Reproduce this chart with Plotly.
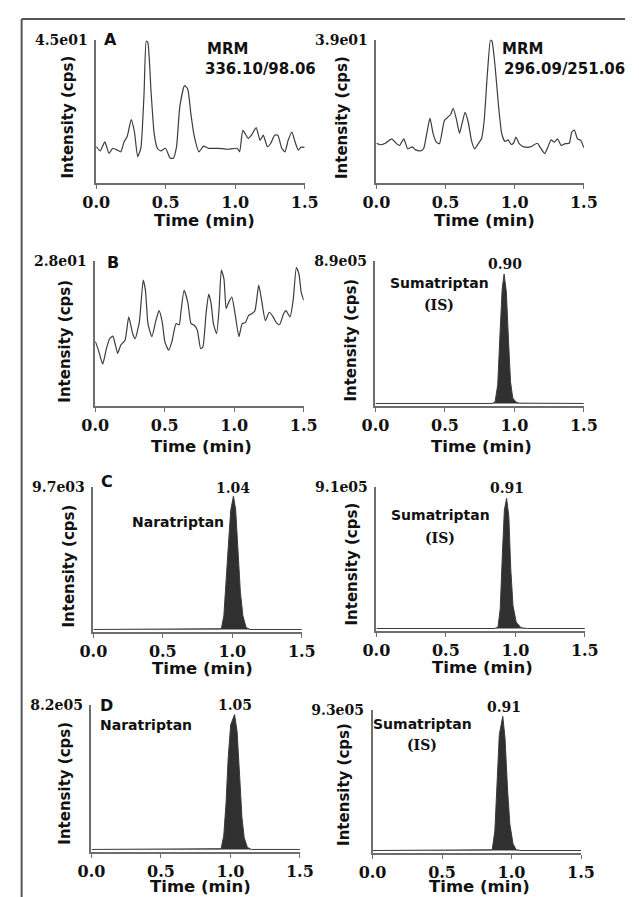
import plotly.graph_objects as go

W, H = 639, 897

# ---------------- data ----------------
# Panel A, left: MRM 336.10/98.06 (blank)
time_a1 = [0, 0.028, 0.062, 0.092, 0.119, 0.154, 0.177, 0.2, 0.222, 0.252, 0.275, 0.298, 0.321, 0.344,
           0.36, 0.372, 0.394, 0.417, 0.44, 0.463, 0.498, 0.532, 0.555, 0.578, 0.601, 0.635, 0.658, 0.681,
           0.704, 0.739, 0.773, 0.807, 0.876, 0.945, 1.014, 1.032, 1.055, 1.094, 1.117, 1.151, 1.179, 1.202,
           1.232, 1.255, 1.284, 1.307, 1.335, 1.358, 1.381, 1.408, 1.427, 1.454, 1.472, 1.5]
int_a1 = [11.5, 10.2, 13.0, 9.4, 11.0, 10.4, 9.9, 13.0, 14.6, 20.0, 16.1, 8.4, 11.0, 28.0,
          44.6, 44.0, 29.1, 15.6, 11.0, 10.2, 11.0, 7.9, 7.9, 11.5, 23.9, 30.6, 29.6, 21.8,
          15.1, 9.9, 11.7, 11.0, 11.0, 10.7, 11.0, 9.9, 16.6, 14.1, 15.1, 17.5, 13.5, 15.1,
          11.5, 12.5, 15.1, 15.1, 11.0, 9.9, 13.5, 16.1, 13.5, 10.4, 11.3, 11.3]

# Panel A, right: MRM 296.09/251.06 (blank)
time_a2 = [0, 0.03, 0.065, 0.111, 0.145, 0.168, 0.198, 0.226, 0.26, 0.283,
           0.318, 0.341, 0.364, 0.387, 0.41, 0.433, 0.456, 0.491, 0.514, 0.537,
           0.555, 0.578, 0.601, 0.618, 0.641, 0.664, 0.687, 0.71, 0.737, 0.76,
           0.779, 0.802, 0.825, 0.836, 0.859, 0.882, 0.906, 0.929, 0.952, 0.975,
           0.991, 1.009, 1.032, 1.067, 1.113, 1.164, 1.182, 1.217, 1.24, 1.263,
           1.286, 1.309, 1.336, 1.366, 1.394, 1.412, 1.431, 1.454, 1.477, 1.5]
int_a2 = [10.9, 10.5, 10.9, 12.1, 10.8, 10.3, 12.1, 9.4, 9.9, 9.1,
          8.8, 9.4, 13.5, 17.7, 13.5, 11.2, 10.8, 17.0, 17.9, 18.7,
          20.4, 17.5, 13.6, 16.1, 19.3, 16.6, 11.7, 9.4, 10.8, 12.1,
          17.0, 29.6, 39.0, 38.6, 31.4, 21.5, 13.5, 11.4, 11.8, 10.6,
          10.9, 12.6, 10.8, 9.9, 9.9, 10.9, 9.9, 8.1, 9.9, 11.8,
          11.2, 12.1, 10.3, 10.8, 10.9, 13.9, 14.5, 12.1, 11.7, 9.7]

# Panel B, left (blank)
time_b1 = [0, 0.023, 0.053, 0.08, 0.103, 0.126, 0.145, 0.161, 0.184, 0.214,
           0.241, 0.269, 0.287, 0.317, 0.345, 0.361, 0.379, 0.407, 0.436, 0.459,
           0.482, 0.501, 0.528, 0.551, 0.581, 0.604, 0.616, 0.639, 0.666, 0.689,
           0.712, 0.735, 0.758, 0.774, 0.797, 0.816, 0.834, 0.85, 0.873, 0.891,
           0.907, 0.926, 0.942, 0.96, 0.983, 1.006, 1.034, 1.057, 1.08, 1.103,
           1.126, 1.149, 1.176, 1.195, 1.224, 1.252, 1.28, 1.303, 1.326, 1.355,
           1.372, 1.401, 1.424, 1.447, 1.466, 1.482, 1.5]
int_b1 = [12.5, 10.8, 8.1, 11.1, 13.0, 13.5, 11.8, 10.2, 11.8, 12.7,
          17.2, 14.0, 13.0, 16.2, 24.3, 22.3, 15.9, 13.4, 16.5, 18.4,
          16.2, 12.4, 10.8, 12.4, 15.9, 15.7, 18.1, 22.3, 20.0, 15.9,
          15.6, 14.6, 11.1, 11.4, 17.8, 21.6, 19.7, 15.9, 14.0, 18.8,
          26.2, 24.5, 18.8, 20.0, 21.0, 17.8, 13.4, 15.9, 16.1, 17.5,
          17.8, 18.4, 23.3, 20.7, 16.5, 18.1, 17.2, 16.1, 15.7, 17.8,
          18.4, 17.2, 20.4, 26.7, 25.4, 21.9, 20.4]

# Panel B, right: Sumatriptan (IS)
time_b2 = [0.0, 0.84, 0.861, 0.880, 0.896, 0.912, 0.926, 0.942, 0.958, 0.972, 0.988, 1.011, 1.034, 1.5]
int_b2 = [18000, 18000, 27000, 132000, 435000, 718000, 809000, 698000, 394000, 151000, 51000, 27000, 20000, 18000]

# Panel C, left: Naratriptan
time_c1 = [0.0, 0.90, 0.921, 0.939, 0.955, 0.971, 0.989, 1.008, 1.024, 1.040, 1.058, 1.076, 1.099, 1.127, 1.5]
int_c1 = [194, 194, 243, 1106, 3085, 5733, 8158, 9079, 8158, 5510, 2648, 1106, 330, 194, 194]

# Panel C, right: Sumatriptan (IS)
time_c2 = [0.0, 0.85, 0.875, 0.891, 0.907, 0.921, 0.937, 0.953, 0.967, 0.983, 1.006, 1.041, 1.087, 1.5]
int_c2 = [18200, 18200, 27300, 141000, 494000, 764000, 837000, 723000, 390000, 162000, 58200, 22800, 18200, 18200]

# Panel D, left: Naratriptan
time_d1 = [0.0, 0.91, 0.933, 0.952, 0.968, 0.984, 1.002, 1.030, 1.048, 1.067, 1.083, 1.099, 1.122, 1.151, 1.5]
int_d1 = [16400, 16400, 20500, 91800, 267000, 525000, 709000, 765000, 672000, 415000, 194000, 82800, 27900, 16400, 16400]

# Panel D, right: Sumatriptan (IS)
time_d2 = [0.0, 0.84, 0.861, 0.880, 0.896, 0.912, 0.937, 0.953, 0.972, 0.988, 1.011, 1.034, 1.068, 1.5]
int_d2 = [18600, 18600, 23300, 146000, 446000, 769000, 887000, 748000, 404000, 189000, 60500, 23300, 18600, 18600]

y_max = [45, 39, 28, 890000, 9700, 910000, 820000, 930000]
y_max_labels = ["4.5e01", "3.9e01", "2.8e01", "8.9e05", "9.7e03", "9.1e05", "8.2e05", "9.3e05"]
x_ticks = [0, 0.5, 1.0, 1.5]
x_tick_labels = ["0.0", "0.5", "1.0", "1.5"]

series = [(time_a1, int_a1, False), (time_a2, int_a2, False), (time_b1, int_b1, False),
          (time_b2, int_b2, True), (time_c1, int_c1, True), (time_c2, int_c2, True),
          (time_d1, int_d1, True), (time_d2, int_d2, True)]

# ---------------- layout geometry (pixels) ----------------
boxes = [(86, 304, 32, 177), (379, 596, 32, 177),
         (85, 303, 255, 402), (378, 596, 255, 402),
         (83, 301, 483, 630), (379, 597, 483, 629),
         (81, 299, 703, 852), (375, 593, 708, 853)]
ytitle_pos = [(57, 110), (343, 110), (53, 336), (352, 335),
              (57, 563), (353, 561), (53, 782), (345, 783)]
xtitle_pos = [(199, 214), (492, 214), (196, 442), (489, 442),
              (197, 666), (490, 665), (195, 886), (487, 886)]

SANS = "DejaVu Sans"
SERIF = "DejaVu Serif"
AXC = "#6e6e6e"

fig = go.Figure()
layout = dict(width=W, height=H, margin=dict(l=0, r=0, t=0, b=0),
              paper_bgcolor="white", plot_bgcolor="white", showlegend=False)

def px(x):
    return x / W

def py(y):
    return 1 - y / H

for i, ((t, v, peak), (x0, x1, y0, y1)) in enumerate(zip(series, boxes)):
    n = "" if i == 0 else str(i + 1)
    if peak:
        fig.add_trace(go.Scatter(x=t, y=v, mode="lines", fill="toself", fillcolor="#303030",
                                 line=dict(color="#3a3a3a", width=1), xaxis="x" + n, yaxis="y" + n,
                                 hoverinfo="skip"))
    else:
        fig.add_trace(go.Scatter(x=t, y=v, mode="lines", line=dict(color="#3c3c3c", width=1.2,
                                 shape="spline", smoothing=0.5), xaxis="x" + n, yaxis="y" + n,
                                 hoverinfo="skip"))
    layout["xaxis" + n] = dict(domain=[px(x0), px(x1)], range=[0, 1.5], anchor="y" + n,
                               showgrid=False, zeroline=False, showline=True, linecolor=AXC,
                               linewidth=1.5, ticks="outside", ticklen=4, tickwidth=1, tickcolor=AXC,
                               tickvals=x_ticks, ticktext=x_tick_labels,
                               tickfont=dict(family=SERIF, size=16, color="#111", weight="bold"))
    layout["yaxis" + n] = dict(domain=[py(y1), py(y0)], range=[0, y_max[i]], anchor="x" + n,
                               showgrid=False, zeroline=False, showline=True, linecolor=AXC,
                               linewidth=1.5, ticks="", tickvals=[y_max[i]],
                               ticktext=[y_max_labels[i]], ticklabelstandoff=4,
                               tickfont=dict(family=SERIF, size=14, color="#111", weight="bold"))

annotations = []

def ann(text, x, y, size=14, family=SANS, xanchor="center", angle=0):
    annotations.append(dict(text=text, x=px(x), y=py(y), xref="paper", yref="paper",
                            xanchor=xanchor, yanchor="middle", showarrow=False, textangle=angle,
                            font=dict(family=family, size=size, color="#111", weight="bold")))

for (x, y) in ytitle_pos:
    ann("Intensity (cps)", x, y, size=15, angle=-90)
for (x, y) in xtitle_pos:
    ann("Time (min)", x, y, size=16.5)

# panel letters and labels
ann("A", 101, 32, size=16)
ann("B", 104, 257, size=16)
ann("C", 97, 478, size=16)
ann("D", 88, 704, size=16, xanchor="left")

ann("MRM", 200, 41, size=15, xanchor="left")
ann("336.10/98.06", 198, 62, size=15, xanchor="left")
ann("MRM", 508, 41, size=15, xanchor="left")
ann("296.09/251.06", 510, 62, size=15, xanchor="left")

ann("0.90", 513, 258, size=14, family=SERIF)
ann("Sumatriptan", 445, 277, size=14)
ann("(IS)", 444, 300, size=14, family=SERIF)

ann("1.04", 229, 484, size=14, family=SERIF)
ann("Naratriptan", 171, 519, size=14)
ann("0.91", 516, 484, size=14, family=SERIF)
ann("Sumatriptan", 446, 512, size=14)
ann("(IS)", 445, 535, size=14, family=SERIF)

ann("1.05", 231, 703, size=14, family=SERIF)
ann("Naratriptan", 88, 723, size=14, xanchor="left")
ann("0.91", 512, 705, size=14, family=SERIF)
ann("Sumatriptan", 427, 722, size=14)
ann("(IS)", 427, 744, size=14, family=SERIF)

layout["annotations"] = annotations
layout["shapes"] = [
    dict(type="line", xref="paper", yref="paper", x0=px(8), x1=px(8), y0=py(11), y1=py(H),
         line=dict(color="#555", width=2)),
    dict(type="line", xref="paper", yref="paper", x0=px(8), x1=1, y0=py(11), y1=py(11),
         line=dict(color="#555", width=2)),
]

fig.update_layout(**layout)
fig.write_html("out.html", config={"displayModeBar": False},
               post_script="document.body.style.margin='0';document.body.style.overflow='hidden';")
